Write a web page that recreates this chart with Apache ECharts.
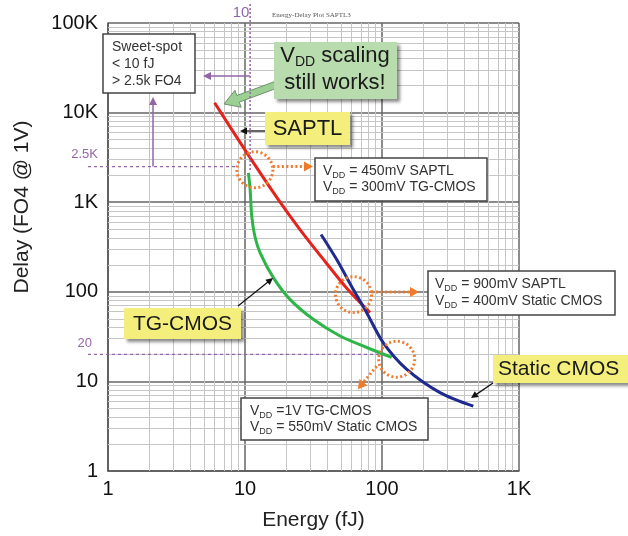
<!DOCTYPE html>
<html>
<head>
<meta charset="utf-8">
<script src="https://cdn.jsdelivr.net/npm/echarts@6.0.0/dist/echarts.min.js"></script>
<style>
  html, body { margin: 0; padding: 0; background: #fff; }
  #chart { width: 628px; height: 536px; }
</style>
</head>
<body>
<div id="chart"></div>
<script>
// values (energy in fJ, delay in FO4 @ 1V)
var saptlEnergy = [6.0, 10.3, 17.1, 25.2, 38.4, 55.5, 81.7];
var saptlDelay  = [12860, 3570, 1125, 495, 218, 109, 58.5];

var tgEnergy = [10.6, 10.9, 11.2, 11.8, 12.9, 16.1, 21.3, 31.5, 49.4, 77.3, 117.8];
var tgDelay  = [2120, 1380, 697, 417, 272, 144, 82.3, 49.3, 32.1, 23.9, 18.5];

var staticEnergy = [35.9, 46.7, 61.8, 77.3, 102, 151, 265, 464];
var staticDelay  = [436, 229, 106, 58.5, 27.1, 13.7, 7.5, 5.3];

var energyTicks = [1, 10, 100, 1000];
var energyTickLabels = ['1', '10', '100', '1K'];
var delayTicks = [1, 10, 100, 1000, 10000, 100000];
var delayTickLabels = ['1', '10', '100', '1K', '10K', '100K'];
var minorSteps = [2, 3, 4, 5, 6, 7, 8, 9];

// purple reference levels
var sweetEnergy = 10.9;
var sweetDelay = 2500;
var floorDelay = 20;

// operating points ringed in orange
var ringPoints = [[11.8, 2300], [62, 93], [128, 17.7]];

var FONT = '"Liberation Sans", Arial, sans-serif';
var PURPLE = '#9466a8';
var ORANGE = '#f07a2c';

var chart = echarts.init(document.getElementById('chart'));

function tickLabel(values, labels) {
    return function (v) {
        for (var i = 0; i < values.length; i++) {
            if (Math.abs(v - values[i]) < values[i] * 1e-6) return labels[i];
        }
        return '';
    };
}

function pairs(xs, ys) {
    return xs.map(function (x, i) { return [x, ys[i]]; });
}

var minorLines = [];
energyTicks.slice(0, -1).forEach(function (d) {
    minorSteps.forEach(function (m) { minorLines.push({ xAxis: m * d }); });
});
delayTicks.slice(0, -1).forEach(function (d) {
    minorSteps.forEach(function (m) { minorLines.push({ yAxis: m * d }); });
});

chart.setOption({
    animation: false,
    grid: { left: 108, right: 109, top: 23, bottom: 64 },
    xAxis: {
        type: 'log', logBase: 10, min: 1, max: 1000,
        name: 'Energy (fJ)', nameLocation: 'middle', nameGap: 39,
        nameTextStyle: { fontSize: 21, color: '#222', fontFamily: FONT },
        axisLine: { lineStyle: { color: '#555', width: 1.5 } },
        axisTick: { show: false },
        axisLabel: { fontSize: 20, color: '#111', fontFamily: FONT, margin: 8,
            formatter: tickLabel(energyTicks, energyTickLabels) },
        splitLine: { show: true, lineStyle: { color: '#666', width: 1.5 } }
    },
    yAxis: {
        type: 'log', logBase: 10, min: 1, max: 100000,
        name: 'Delay (FO4 @ 1V)', nameLocation: 'middle', nameGap: 75,
        nameTextStyle: { fontSize: 21, color: '#222', fontFamily: FONT, padding: [0, 0, 0, 80] },
        axisLine: { lineStyle: { color: '#555', width: 1.5 } },
        axisTick: { show: false },
        axisLabel: { fontSize: 20, color: '#111', fontFamily: FONT, margin: 10,
            formatter: tickLabel(delayTicks, delayTickLabels) },
        splitLine: { show: true, lineStyle: { color: '#666', width: 1.5 } }
    },
    series: [
        {
            name: 'minor grid', type: 'line', data: [], silent: true, z: 1,
            markLine: {
                silent: true, symbol: 'none', animation: false, z: 1,
                label: { show: false },
                lineStyle: { color: '#c6c6c6', width: 1, type: 'solid' },
                data: minorLines
            }
        },
        {
            name: 'SAPTL', type: 'line', data: pairs(saptlEnergy, saptlDelay),
            showSymbol: false, smooth: 0.3, z: 3,
            lineStyle: { color: '#e3231c', width: 3 }
        },
        {
            name: 'TG-CMOS', type: 'line', data: pairs(tgEnergy, tgDelay),
            showSymbol: false, smooth: 0.3, z: 3,
            lineStyle: { color: '#2db548', width: 3 }
        },
        {
            name: 'Static CMOS', type: 'line', data: pairs(staticEnergy, staticDelay),
            showSymbol: false, smooth: 0.3, z: 3,
            lineStyle: { color: '#1d2a8e', width: 3 }
        }
    ]
});

// ---- annotations ----
function px(e, d) { return chart.convertToPixel({ gridIndex: 0 }, [e, d]); }

function seg(x1, y1, x2, y2, color, width, dash) {
    return { type: 'line', z: 50, silent: true,
        shape: { x1: x1, y1: y1, x2: x2, y2: y2 },
        style: { stroke: color, lineWidth: width, lineDash: dash || null } };
}
function head(x1, y1, x2, y2, color, len, half) {
    var dx = x2 - x1, dy = y2 - y1, l = Math.sqrt(dx * dx + dy * dy);
    var ux = dx / l, uy = dy / l, bx = x2 - ux * len, by = y2 - uy * len;
    return { type: 'polygon', z: 51, silent: true,
        shape: { points: [[x2, y2], [bx - uy * half, by + ux * half], [bx + uy * half, by - ux * half]] },
        style: { fill: color } };
}
function arrow(x1, y1, x2, y2, color, width, dash, len, half) {
    var dx = x2 - x1, dy = y2 - y1, l = Math.sqrt(dx * dx + dy * dy);
    var ex = x2 - dx / l * len * 0.8, ey = y2 - dy / l * len * 0.8;
    return [seg(x1, y1, ex, ey, color, width, dash), head(x1, y1, x2, y2, color, len, half)];
}
function box(x, y, w, h, fill, stroke, shadow) {
    var s = { fill: fill, stroke: stroke || null, lineWidth: 1.5 };
    if (shadow) {
        s.shadowBlur = 3; s.shadowOffsetX = 3; s.shadowOffsetY = 3; s.shadowColor = 'rgba(0,0,0,0.45)';
    }
    return { type: 'rect', z: 40, silent: true, shape: { x: x, y: y, width: w, height: h }, style: s };
}
function text(str, x, y, size, color, align, rich, family) {
    return { type: 'text', z: 60, silent: true,
        style: { text: str, x: x, y: y, fill: color, font: size + 'px ' + (family || FONT),
            fontSize: size, fontFamily: family || FONT,
            textAlign: align || 'left', align: align || 'left',
            textVerticalAlign: 'middle', verticalAlign: 'middle', rich: rich || null } };
}
var vddRich = {
    v: { fontSize: 14, fontFamily: FONT, lineHeight: 16, verticalAlign: 'top', color: '#333' },
    s: { fontSize: 9, fontFamily: FONT, lineHeight: 9, padding: [7, 0, 0, 0], verticalAlign: 'top', color: '#333' }
};
function vdd(rest, x, y) {
    return text('{v|V}{s|DD}{v|' + rest + '}', x, y, 14, '#333', 'left', vddRich);
}
var bigRich = {
    b: { fontSize: 22, fontFamily: FONT, lineHeight: 26, verticalAlign: 'top', color: '#1a1a1a' },
    s: { fontSize: 14, fontFamily: FONT, lineHeight: 16, padding: [10, 0, 0, 0], verticalAlign: 'top', color: '#1a1a1a' }
};

var g = [];
var sweet = px(sweetEnergy, sweetDelay);
var floor = px(1, floorDelay);
var rings = ringPoints.map(function (p) { return px(p[0], p[1]); });
var R = 18;

// purple guides
g.push(seg(sweet[0], 4, sweet[0], sweet[1] + 4, PURPLE, 1.5, [2, 2]));
g.push(seg(88, sweet[1], rings[0][0] - R, sweet[1], PURPLE, 1.2, [3, 3]));
g.push(seg(88, floor[1], rings[2][0] - R, floor[1], PURPLE, 1.2, [3, 3]));
g = g.concat(arrow(sweet[0], 76, 203, 76, PURPLE, 1.5, null, 8, 4));
g = g.concat(arrow(153, sweet[1], 153, 97, PURPLE, 1.5, null, 8, 4));
g.push(text('2.5K', 98, 154, 13, PURPLE, 'right'));
g.push(text('20', 92, 343, 13, PURPLE, 'right'));
g.push(text('10', 241, 13, 15, PURPLE, 'center'));
g.push(text('Energy-Delay Plot SAPTL3', 272, 15, 7, '#555', 'left', null, '"Liberation Serif", serif'));

// orange rings and dotted arrows
rings.forEach(function (c) {
    g.push({ type: 'circle', z: 52, silent: true, shape: { cx: c[0], cy: c[1], r: R },
        style: { fill: null, stroke: ORANGE, lineWidth: 3, lineDash: [2, 2.5] } });
});
g = g.concat(arrow(rings[0][0] + R, sweet[1], 313, sweet[1], ORANGE, 3, [2, 2.5], 9, 5));
g = g.concat(arrow(rings[1][0] + R, rings[1][1] - 2.5, 419, rings[1][1] - 2.5, ORANGE, 3, [2, 2.5], 9, 5));
g = g.concat(arrow(rings[2][0] - 20, rings[2][1] + 7, rings[2][0] - 39, rings[2][1] + 30, ORANGE, 3, [2, 2.5], 9, 5));

// sweet-spot box
g.push(box(103, 34, 92, 59, '#fff', '#444'));
g.push(text('Sweet-spot', 112, 47, 14, '#333'));
g.push(text('< 10 fJ', 112, 64, 14, '#333'));
g.push(text('> 2.5k FO4', 112, 81, 14, '#333'));

// green callout with block arrow
(function () {
    var x1 = 289, y1 = 80, x2 = 224, y2 = 104;
    var dx = x2 - x1, dy = y2 - y1, l = Math.sqrt(dx * dx + dy * dy), ux = dx / l, uy = dy / l;
    var nx = -uy, ny = ux, sw = 3.5, hw = 9, hl = 15;
    var bx = x2 - ux * hl, by = y2 - uy * hl;
    g.push({ type: 'polygon', z: 39, silent: true, shape: { points: [
        [x1 + nx * sw, y1 + ny * sw], [bx + nx * sw, by + ny * sw], [bx + nx * hw, by + ny * hw],
        [x2, y2], [bx - nx * hw, by - ny * hw], [bx - nx * sw, by - ny * sw], [x1 - nx * sw, y1 - ny * sw]
    ] }, style: { fill: '#9ccf92', stroke: '#6f8f70', lineWidth: 1 } });
})();
g.push(box(274, 42, 123, 57, '#b9dcae', null, true));
g.push(text('{b|V}{s|DD}{b| scaling}', 335, 58, 22, '#1a1a1a', 'center', bigRich));
g.push(text('still works!', 335, 83, 22, '#1a1a1a', 'center'));

// SAPTL label
g = g.concat(arrow(265, 131, 240, 131, '#111', 1.3, null, 7, 3.5));
g.push(box(265, 112, 85, 33, '#f4ef7c', null, true));
g.push(text('SAPTL', 307.5, 129, 22, '#1a1a1a', 'center'));

// TG-CMOS label
g = g.concat(arrow(238, 306, 273, 278, '#111', 1.3, null, 7, 3.5));
g.push(box(124, 308, 117, 31, '#f4ef7c', null, true));
g.push(text('TG-CMOS', 182.5, 324, 21, '#1a1a1a', 'center'));

// Static CMOS label
g = g.concat(arrow(493, 383, 471, 398, '#111', 1.3, null, 7, 3.5));
g.push(box(493, 355, 140, 28, '#f4ef7c', null, true));
g.push(text('Static CMOS', 498, 369, 21, '#1a1a1a', 'left'));

// VDD boxes
g.push(box(315, 158, 172, 43, '#fff', '#444'));
g.push(vdd(' = 450mV SAPTL', 323, 172));
g.push(vdd(' = 300mV TG-CMOS', 323, 188));

g.push(box(428, 271, 187, 44, '#fff', '#444'));
g.push(vdd(' = 900mV SAPTL', 435, 285));
g.push(vdd(' = 400mV Static CMOS', 435, 302));

g.push(box(241, 398, 187, 42, '#fff', '#444'));
g.push(vdd(' =1V TG-CMOS', 250, 412));
g.push(vdd(' = 550mV Static CMOS', 250, 428));

chart.setOption({ graphic: g });
</script>
</body>
</html>
